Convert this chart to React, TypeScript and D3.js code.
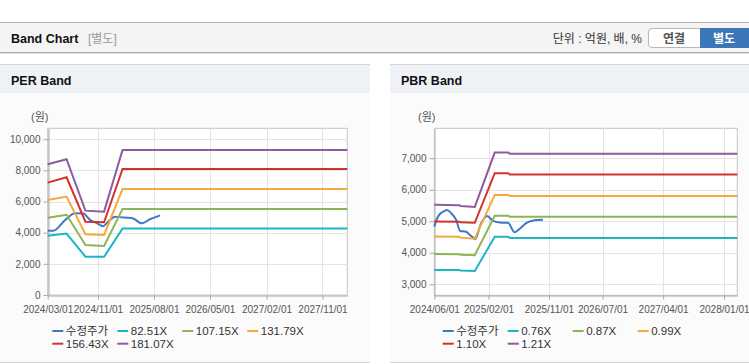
import { useEffect, useRef } from "react";
import * as d3 from "d3";

const parse = d3.timeParse("%Y-%m-%d");
const FONT = "'Liberation Sans', 'Noto Sans CJK KR', sans-serif";

// ---- PER band data ----
const perBandDates = ["2024-03-01", "2024-06-01", "2024-09-01", "2024-12-01", "2025-03-01", "2028-03-01"];
const per8251 = [3800, 3940, 2460, 2450, 4265, 4265];
const per10715 = [4965, 5150, 3210, 3150, 5525, 5525];
const per13179 = [6100, 6315, 3900, 3855, 6810, 6810];
const per15643 = [7215, 7555, 4705, 4665, 8090, 8090];
const per18107 = [8390, 8715, 5415, 5350, 9315, 9315];
const perPriceDates = [
  "2024-03-01", "2024-03-28", "2024-05-24", "2024-07-12", "2024-08-22", "2024-09-23",
  "2024-10-26", "2024-11-27", "2024-12-22", "2025-01-23", "2025-03-05", "2025-04-15",
  "2025-06-03", "2025-07-13", "2025-08-31",
];
const perPrice = [4130, 4130, 4800, 5250, 5230, 4820, 4620, 4420, 4720, 5030, 4970, 4950, 4600, 4860, 5110];
const perBandNames = ["82.51X", "107.15X", "131.79X", "156.43X", "181.07X"];
const perTicksX = ["2024-03-01", "2024-11-01", "2025-08-01", "2026-05-01", "2027-02-01", "2027-11-01"];
const perTicksY = [0, 2000, 4000, 6000, 8000, 10000];

// ---- PBR band data ----
const pbrBandDates = ["2024-06-01", "2024-09-22", "2024-09-28", "2024-12-01", "2025-03-01", "2025-05-01", "2025-05-08", "2028-03-01"];
const pbr076 = [3455, 3450, 3435, 3420, 4510, 4510, 4470, 4470];
const pbr087 = [3960, 3955, 3935, 3925, 5175, 5175, 5145, 5145];
const pbr099 = [4515, 4505, 4480, 4445, 5835, 5835, 5805, 5805];
const pbr110 = [4995, 4985, 4965, 4950, 6525, 6525, 6485, 6485];
const pbr121 = [5520, 5505, 5485, 5455, 7180, 7180, 7145, 7145];
const pbrPriceDates = [
  "2024-06-01", "2024-06-18", "2024-07-10", "2024-07-28", "2024-08-17", "2024-09-08",
  "2024-09-26", "2024-10-23", "2024-11-08", "2024-11-23", "2024-12-02", "2024-12-30",
  "2025-01-26", "2025-02-21", "2025-03-23", "2025-04-30", "2025-05-30", "2025-06-22",
  "2025-07-21", "2025-08-28", "2025-10-05",
];
const pbrPrice = [
  4830, 5150, 5300, 5360, 5250, 5040, 4690, 4670, 4570, 4480, 4430, 4940,
  5170, 5010, 4960, 4950, 4650, 4760, 4940, 5030, 5050,
];
const pbrBandNames = ["0.76X", "0.87X", "0.99X", "1.10X", "1.21X"];
const pbrTicksX = ["2024-06-01", "2025-02-01", "2025-11-01", "2026-07-01", "2027-04-01", "2028-01-01"];
const pbrTicksY = [3000, 4000, 5000, 6000, 7000];

const priceName = "수정주가";
const colors = ["#3c78c6", "#1db4c6", "#8db553", "#f5a83b", "#d5312c", "#8e5b9f"];

interface PanelProps {
  x0: number;
  title: string;
  left: number;
  right: number;
  top: number;
  bottom: number;
  xDomain: [string, string];
  yDomain: [number, number];
  ticksX: string[];
  ticksY: number[];
  bandDates: string[];
  bands: number[][];
  bandNames: string[];
  priceDates: string[];
  price: number[];
  unitX: number;
  legendX: number;
}

function drawPanel(svg: d3.Selection<SVGSVGElement, unknown, null, undefined>, p: PanelProps) {
  const g = svg.append("g");
  const panelW = p.x0 === 0 ? 370 : 749 - p.x0;

  g.append("rect").attr("x", p.x0).attr("y", 64).attr("width", panelW).attr("height", 299).attr("fill", "#fbfbfb");
  g.append("rect").attr("x", p.x0).attr("y", 64).attr("width", panelW).attr("height", 29).attr("fill", "#eef2f7");
  g.append("line").attr("x1", p.x0).attr("x2", p.x0 + panelW).attr("y1", 64.5).attr("y2", 64.5).attr("stroke", "#d6d6d6");
  g.append("line").attr("x1", p.x0).attr("x2", p.x0 + panelW).attr("y1", 362.5).attr("y2", 362.5).attr("stroke", "#d6d6d6");
  g.append("text").attr("x", p.x0 + 11).attr("y", 85).attr("font-family", FONT).attr("font-weight", "bold")
    .attr("font-size", 12.5).attr("fill", "#111").text(p.title);
  g.append("text").attr("x", p.unitX).attr("y", 121).attr("font-family", FONT).attr("font-size", 11)
    .attr("fill", "#555").text("(원)");

  const x = d3.scaleTime().domain(p.xDomain.map((d) => parse(d)!) as [Date, Date]).range([p.left, p.right]);
  const y = d3.scaleLinear().domain(p.yDomain).range([p.bottom, p.top]);

  g.append("rect").attr("x", p.left).attr("y", p.top).attr("width", p.right - p.left)
    .attr("height", p.bottom - p.top).attr("fill", "#fff").attr("stroke", "#c4c4c4");

  const xt = p.ticksX.map((d) => parse(d)!);
  // grid
  g.append("g").selectAll("line").data(xt).join("line")
    .attr("x1", (d) => Math.round(x(d)) + 0.5).attr("x2", (d) => Math.round(x(d)) + 0.5)
    .attr("y1", p.top).attr("y2", p.bottom).attr("stroke", "#e4e4e4");
  g.append("g").selectAll("line").data(p.ticksY).join("line")
    .attr("x1", p.left).attr("x2", p.right)
    .attr("y1", (d) => Math.round(y(d)) + 0.5).attr("y2", (d) => Math.round(y(d)) + 0.5).attr("stroke", "#e4e4e4");

  // axes
  const ax = g.append("g").attr("transform", `translate(0,${Math.round(p.bottom) + 0.5})`)
    .call(d3.axisBottom(x).tickValues(xt).tickSize(4).tickSizeOuter(0).tickFormat((d) => d3.timeFormat("%Y/%m/%d")(d as Date)));
  const ay = g.append("g").attr("transform", `translate(${Math.round(p.left) + 0.5},0)`)
    .call(d3.axisLeft(y).tickValues(p.ticksY).tickSize(5).tickSizeOuter(0).tickPadding(3).tickFormat(d3.format(",")));
  [ax, ay].forEach((a) => {
    a.select(".domain").attr("stroke", "#a8a8a8");
    a.selectAll(".tick line").attr("stroke", "#a8a8a8");
    a.selectAll("text").attr("font-family", FONT).attr("font-size", 10).attr("fill", "#555");
  });
  ax.selectAll("text").attr("dy", "1.05em");

  const line = d3.line<[Date, number]>().x((d) => x(d[0])).y((d) => y(d[1]));
  const smooth = d3.line<[Date, number]>().x((d) => x(d[0])).y((d) => y(d[1])).curve(d3.curveMonotoneX);
  const priceData = p.priceDates.map((d, i) => [parse(d)!, p.price[i]] as [Date, number]);
  g.append("path").datum(priceData).attr("d", smooth).attr("fill", "none").attr("stroke", colors[0]).attr("stroke-width", 2);
  p.bands.forEach((vals, k) => {
    const data = p.bandDates.map((d, i) => [parse(d)!, vals[i]] as [Date, number]);
    g.append("path").datum(data).attr("d", line).attr("fill", "none").attr("stroke", colors[k + 1]).attr("stroke-width", 2);
  });

  // legend
  const names = [priceName, ...p.bandNames];
  names.forEach((n, i) => {
    const lx = p.legendX + (i % 4) * 65;
    const ly = 331 + Math.floor(i / 4) * 12.7;
    g.append("line").attr("x1", lx).attr("x2", lx + 11).attr("y1", ly).attr("y2", ly)
      .attr("stroke", colors[i]).attr("stroke-width", 2);
    g.append("text").attr("x", lx + 13.5).attr("y", ly + 4).attr("font-family", FONT).attr("font-size", 11.5)
      .attr("fill", "#333").text(n);
  });
}

const App = () => {
  const svgRef = useRef<SVGSVGElement | null>(null);

  useEffect(() => {
    if (!svgRef.current) return;
    const svg = d3.select(svgRef.current);
    svg.selectAll("*").remove();

    // header bar
    svg.append("rect").attr("width", 749).attr("height", 364).attr("fill", "#fff");
    svg.append("rect").attr("x", 0).attr("y", 22).attr("width", 749).attr("height", 31).attr("fill", "#f4f4f4");
    svg.append("line").attr("x1", 0).attr("x2", 749).attr("y1", 22.5).attr("y2", 22.5).attr("stroke", "#b4b4b4");
    svg.append("line").attr("x1", 0).attr("x2", 749).attr("y1", 53.5).attr("y2", 53.5).attr("stroke", "#e2e2e2");
    svg.append("line").attr("x1", 0).attr("x2", 749).attr("y1", 52.5).attr("y2", 52.5).attr("stroke", "#a8a8a8");
    svg.append("text").attr("x", 11).attr("y", 43).attr("font-family", FONT).attr("font-weight", "bold")
      .attr("font-size", 12.5).attr("fill", "#111").text("Band Chart");
    svg.append("text").attr("x", 88).attr("y", 43).attr("font-family", FONT)
      .attr("font-size", 12).attr("fill", "#999").text("[별도]");
    svg.append("text").attr("x", 642).attr("y", 43).attr("text-anchor", "end").attr("font-family", FONT)
      .attr("font-size", 12).attr("fill", "#333").text("단위 : 억원, 배, %");
    svg.append("path").attr("d", "M700,28.5 H652 Q648.5,28.5 648.5,32 V44 Q648.5,47.5 652,47.5 H700")
      .attr("fill", "#fff").attr("stroke", "#b8b8b8");
    svg.append("rect").attr("x", 700).attr("y", 28).attr("width", 49).attr("height", 20).attr("fill", "#3b77b7");
    svg.append("text").attr("x", 674).attr("y", 42.5).attr("text-anchor", "middle").attr("font-family", FONT)
      .attr("font-size", 12).attr("font-weight", "bold").attr("fill", "#555").text("연결");
    svg.append("text").attr("x", 724).attr("y", 42.5).attr("text-anchor", "middle").attr("font-family", FONT)
      .attr("font-size", 12).attr("font-weight", "bold").attr("fill", "#fff").text("별도");

    drawPanel(svg, {
      x0: 0, title: "PER Band", left: 47.7, right: 347.3, top: 128.3, bottom: 295,
      xDomain: ["2024-03-01", "2028-03-01"], yDomain: [0, 10700],
      ticksX: perTicksX, ticksY: perTicksY, bandDates: perBandDates,
      bands: [per8251, per10715, per13179, per15643, per18107], bandNames: perBandNames,
      priceDates: perPriceDates, price: perPrice, unitX: 31, legendX: 52.3,
    });
    drawPanel(svg, {
      x0: 390, title: "PBR Band", left: 434.3, right: 737.3, top: 128.3, bottom: 295.3,
      xDomain: ["2024-06-01", "2028-03-01"], yDomain: [2650, 7950],
      ticksX: pbrTicksX, ticksY: pbrTicksY, bandDates: pbrBandDates,
      bands: [pbr076, pbr087, pbr099, pbr110, pbr121], bandNames: pbrBandNames,
      priceDates: pbrPriceDates, price: pbrPrice, unitX: 418, legendX: 442.7,
    });
  }, []);

  return (
    <svg ref={svgRef} width={749} height={364} style={{ position: "absolute", left: 0, top: 0 }} />
  );
};

export default App;
